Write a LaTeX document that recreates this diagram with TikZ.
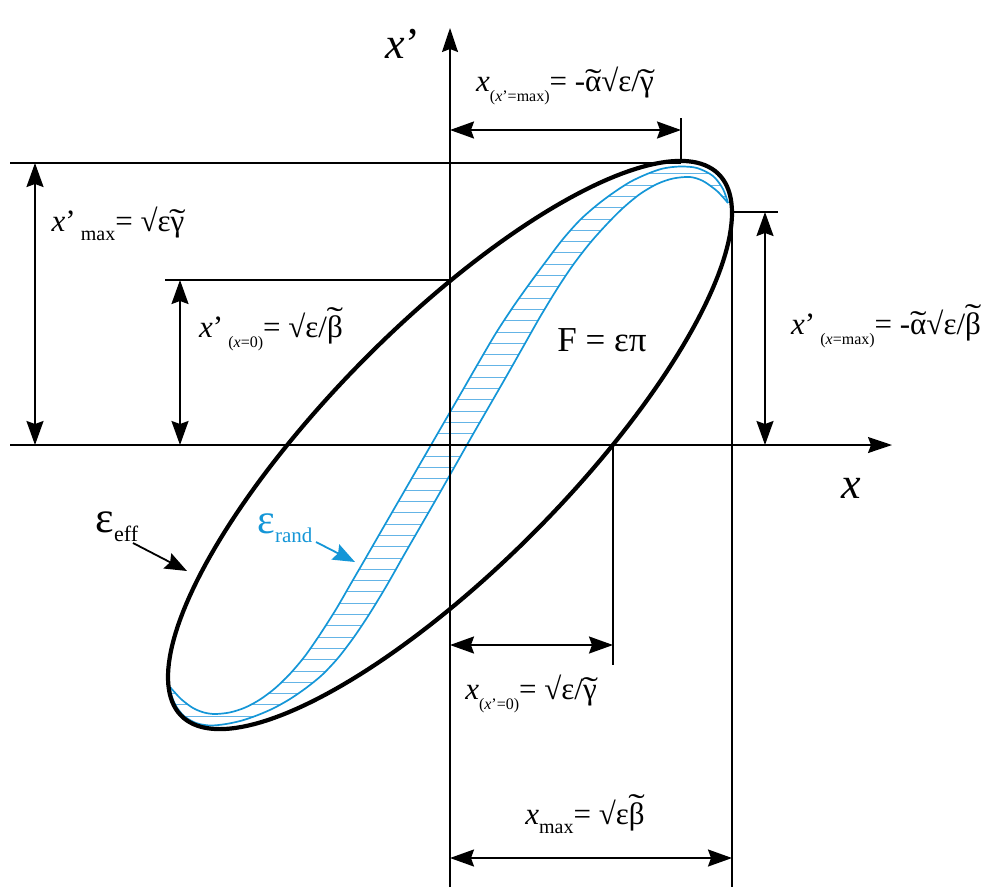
\documentclass[tikz,border=0pt]{standalone}
\usepackage{graphicx}
\usepackage{fontspec}
\setmainfont{Liberation Serif}
\usetikzlibrary{arrows.meta}
\definecolor{randblue}{RGB}{20,150,215}
\definecolor{hatchblue}{RGB}{100,180,230}
\newcommand{\tld}[1]{\leavevmode\setbox0\hbox{#1}\hbox{\rlap{\hbox to \wd0{\hss\raisebox{\dimexpr\ht0-0.42em\relax}{\scalebox{1.6}[1]{\char"02DC}}\hss}}\box0}}
\newcommand{\smallsub}[1]{\raisebox{-0.32em}{\fontsize{16}{16}\selectfont #1}}
\newcommand{\midsub}[1]{\raisebox{-0.3em}{\fontsize{20}{20}\selectfont #1}}
\tikzset{
  refline/.style={line width=1.3pt, black},
  axisline/.style={line width=1.6pt, black, -{Stealth[length=24pt,width=16pt,inset=3pt]}},
  dimarrow/.style={line width=1.9pt, black, {Stealth[length=24pt,width=17pt,inset=3pt]}-{Stealth[length=24pt,width=17pt,inset=3pt]}},
  ptrarrow/.style={line width=1.8pt, -{Stealth[length=22pt,width=17pt,inset=3pt]}},
  lbl/.style={inner sep=0pt, font=\fontsize{31}{34}\selectfont},
  bluecurve/.style={line width=1.7pt, randblue},
  hatchline/.style={line width=0.9pt, hatchblue},
  ellipseline/.style={line width=4.2pt, black},
}
\def\leftcurve{(170,687) (181,699) (193,708) (204,712.5) (215,714) (230,712.4) (245,707.6) (260,699.5) (275,688.3) (290,673.8) (305,656) (320,634.4) (336,609.3) (350,585.1) (364,561) (380,533.2) (397,503.8) (414,474.4) (431,445) (448,415.6) (465,386.2) (480,360.2) (496,333) (513,307) (530,283) (547,260) (563,239) (580,220) (597,205) (613,193) (630,182) (647,174) (663,168.5) (680,166.5) (697,168) (713,176) (723,189) (728,203)}
\def\rightcurve{(728,203) (717,191) (703,181) (690,177) (673,178.5) (657,184) (640,194) (623,208) (607,224) (590,243) (573,265) (557,289) (540,317) (523,347) (506,377) (489,406.5) (472,436) (455,466) (438,496) (421,525.5) (404,555) (387,585) (370,613) (354,637) (338,658) (322,675) (306,688) (290,699) (274,708) (258,715) (242,720.5) (226,724) (210,725.5) (196,723) (184,716) (176,706) (171,694) (170,687)}
\begin{document}
\begin{tikzpicture}[x=1pt,y=-1pt]
\useasboundingbox (0,0) rectangle (990,887);

% ---------- coordinates ----------
\coordinate (O) at (450,445);
\coordinate (xaxL) at (10,445);
\coordinate (xaxR) at (892,445);
\coordinate (yaxB) at (450,887);
\coordinate (yaxT) at (450,28);

\coordinate (topL) at (10,163);
\coordinate (topR) at (681,163);
\coordinate (tickT) at (681,118);
\coordinate (x0L) at (165,280);
\coordinate (x0R) at (450,280);
\coordinate (xmL) at (732,212);
\coordinate (xmR) at (778,212);
\coordinate (xmB) at (732,887);
\coordinate (xp0T) at (613,445);
\coordinate (xp0B) at (613,665);

\coordinate (a1s) at (35,163);  \coordinate (a1e) at (35,445);
\coordinate (a2s) at (180,280); \coordinate (a2e) at (180,445);
\coordinate (a3s) at (765,212); \coordinate (a3e) at (765,445);
\coordinate (a4s) at (450,130); \coordinate (a4e) at (681,130);
\coordinate (a5s) at (450,645); \coordinate (a5e) at (613,645);
\coordinate (a6s) at (450,858); \coordinate (a6e) at (732,858);

\coordinate (effS) at (133,543); \coordinate (effE) at (187,571);
\coordinate (randS) at (316,542); \coordinate (randE) at (355,562);

% ---------- hatched band ----------
\begin{scope}
\clip plot[smooth] coordinates {\leftcurve} -- plot[smooth] coordinates {\rightcurve} -- cycle;
\foreach \k in {-26,...,26}
  \draw[hatchline] (150,{445+11.3*\k}) -- (750,{445+11.3*\k});
\end{scope}

\draw[bluecurve] plot[smooth] coordinates {\leftcurve};
\draw[bluecurve] plot[smooth] coordinates {\rightcurve};

% ---------- reference lines ----------
\draw[refline] (topL) -- (topR);
\draw[refline] (tickT) -- (topR);
\draw[refline] (x0L) -- (x0R);
\draw[refline] (xmL) -- (xmR);
\draw[refline] (xmL) -- (xmB);
\draw[refline] (xp0T) -- (xp0B);

% ---------- axes ----------
\draw[axisline] (xaxL) -- (xaxR);
\draw[axisline] (yaxB) -- (yaxT);

% ---------- ellipse ----------
\draw[ellipseline] plot[domain=0:360, samples=200, variable=\t]
  ({450+282*cos(\t)}, {445-232*cos(\t)+164*sin(\t)}) -- cycle;

% ---------- dimension arrows ----------
\draw[dimarrow] (a1s) -- (a1e);
\draw[dimarrow] (a2s) -- (a2e);
\draw[dimarrow] (a3s) -- (a3e);
\draw[dimarrow] (a4s) -- (a4e);
\draw[dimarrow] (a5s) -- (a5e);
\draw[dimarrow] (a6s) -- (a6e);

\draw[ptrarrow, black] (effS) -- (effE);
\draw[ptrarrow, randblue] (randS) -- (randE);

% ---------- labels ----------
\node[lbl, font=\fontsize{44}{46}\selectfont] (lxp) at (403,44) {\textit{x}’};
\node[lbl, font=\fontsize{44}{46}\selectfont] (lx) at (851,488) {\textit{x}};

\node[lbl] (l1) at (565,86) {\textit{x}\smallsub{(\textit{x}’=max)}= -\tld{α}√ε/\tld{γ}};
\node[lbl] (l2) at (118,224) {\textit{x}’\,\midsub{max}= √ε\tld{γ}};
\node[lbl] (l3) at (271,329) {\textit{x}’\,\smallsub{(\textit{x}=0)}= √ε/\tld{β}};
\node[lbl] (l4) at (886,326) {\textit{x}’\,\smallsub{(\textit{x}=max)}= -\tld{α}√ε/\tld{β}};
\node[lbl, font=\fontsize{35}{38}\selectfont] (lF) at (602,340) {F = επ};
\node[lbl] (l6) at (531,694) {\textit{x}\smallsub{(\textit{x}’=0)}= √ε/\tld{γ}};
\node[lbl] (l7) at (585,814) {\textit{x}\midsub{max}= √ε\tld{β}};
\node[lbl] (leff) at (117,527) {{\fontsize{44}{46}\selectfont ε}\raisebox{-0.3em}{\fontsize{22}{22}\selectfont eff}};
\node[lbl, text=randblue] (lrand) at (285,528) {{\fontsize{42}{44}\selectfont ε}\raisebox{-0.3em}{\fontsize{21}{21}\selectfont rand}};
\end{tikzpicture}
\end{document}
